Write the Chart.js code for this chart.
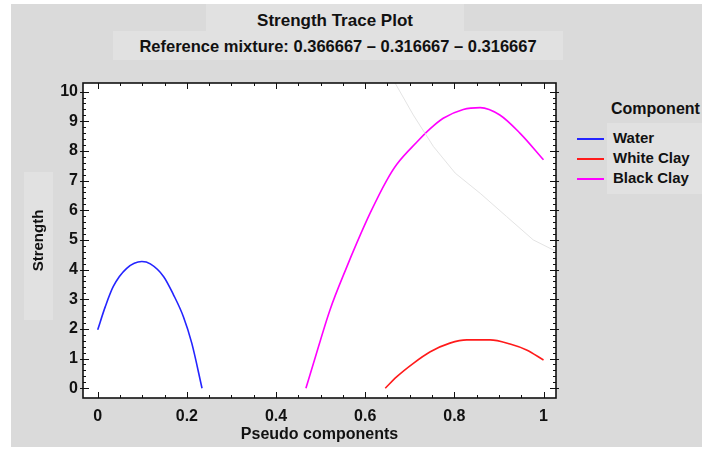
<!DOCTYPE html>
<html>
<head>
<meta charset="utf-8">
<title>Strength Trace Plot</title>
<script src="https://cdn.jsdelivr.net/npm/chart.js@4.4.1/dist/chart.umd.min.js"></script>
<style>
  body { margin: 0; background: #fff; font-family: "Liberation Sans", Arial, sans-serif; }
  #wrap { position: relative; width: 702px; height: 449px; overflow: hidden; }
  #bg { position: absolute; left: 11px; top: 4px; width: 691px; height: 443px; background: #dadada; }
  .box { position: absolute; background: #e1e1e1; font-weight: bold; color: #111; text-align: center; }
  #title { left: 206px; top: 4px; width: 258px; height: 27px; line-height: 33px; font-size: 17px; }
  #subtitle { left: 113px; top: 31px; width: 450px; height: 29px; line-height: 31px; font-size: 16.5px; }
  #ytitleBox { left: 24px; top: 172px; width: 29px; height: 148px; }
  #legendBox { left: 607px; top: 123px; width: 95px; height: 71px; }
  #legend { position: absolute; left: 577px; top: 100px; font-weight: bold; color: #111; }
  #legend .head { position: absolute; left: 34px; top: 0; font-size: 16px; white-space: nowrap; }
  #legend .item { position: absolute; left: 0; font-size: 15px; white-space: nowrap; }
  #legend .item span.swatch { display: inline-block; width: 27px; height: 0; border-top: 2px solid; vertical-align: middle; margin-right: 9px; }
  #myChart { position: absolute; left: 0; top: 0; }
</style>
</head>
<body>
<div id="wrap">
  <div id="bg"></div>
  <div class="box" id="title">Strength Trace Plot</div>
  <div class="box" id="subtitle">Reference mixture: 0.366667 – 0.316667 – 0.316667</div>
  <div class="box" id="ytitleBox"></div>
  <div class="box" id="legendBox"></div>
  <div id="legend"></div>
  <canvas id="myChart" width="702" height="449"></canvas>
</div>

<script>
// values
const seriesNames = ["Water", "White Clay", "Black Clay"];
const seriesColors = ["#2424ff", "#ff1a1a", "#ff00ff"];

const waterX = [0, 0.017, 0.035, 0.065, 0.099, 0.118, 0.148, 0.17, 0.192, 0.211, 0.234];
const waterY = [1.97, 2.75, 3.43, 4.04, 4.27, 4.19, 3.76, 3.15, 2.42, 1.52, 0];

const whiteClayX = [0.645, 0.671, 0.708, 0.746, 0.79, 0.828, 0.88, 0.925, 0.962, 1.0];
const whiteClayY = [0, 0.39, 0.84, 1.23, 1.52, 1.63, 1.63, 1.49, 1.29, 0.95];

const blackClayX = [0.467, 0.484, 0.521, 0.559, 0.581, 0.611, 0.648, 0.671, 0.716, 0.746, 0.775, 0.82, 0.858, 0.902, 0.947, 1.0];
const blackClayY = [0, 0.84, 2.64, 4.1, 4.89, 5.9, 7.0, 7.55, 8.3, 8.75, 9.1, 9.4, 9.46, 9.21, 8.6, 7.7];

// faint grey line in the background of the plot (no legend entry)
const faintX = [0.667, 0.708, 0.753, 0.802, 0.858, 0.917, 0.977, 1.03];
const faintY = [10.29, 9.21, 8.15, 7.25, 6.57, 5.79, 5.0, 4.6];

const xTicks = [0, 0.2, 0.4, 0.6, 0.8, 1];
const xTickLabels = ["0", "0.2", "0.4", "0.6", "0.8", "1"];
const yTicks = [0, 1, 2, 3, 4, 5, 6, 7, 8, 9, 10];

function toPoints(xs, ys) {
  return xs.map((x, i) => ({ x: x, y: ys[i] }));
}

const allX = [waterX, whiteClayX, blackClayX];
const allY = [waterY, whiteClayY, blackClayY];

const datasets = seriesNames.map((name, i) => ({
  label: name,
  data: toPoints(allX[i], allY[i]),
  borderColor: seriesColors[i],
  borderWidth: 1.6,
  pointRadius: 0,
  cubicInterpolationMode: 'monotone',
  showLine: true,
}));
datasets.unshift({
  label: "",
  data: toPoints(faintX, faintY),
  borderColor: "#e4e4e4",
  borderWidth: 1,
  pointRadius: 0,
  showLine: true,
});

// legend as html
const legend = document.getElementById('legend');
legend.innerHTML = '<div class="head">Component</div>';
seriesNames.forEach((name, i) => {
  const row = document.createElement('div');
  row.className = 'item';
  row.style.top = (29 + i * 20) + 'px';
  row.innerHTML = '<span class="swatch" style="border-color:' + seriesColors[i] + '"></span>' + name;
  legend.appendChild(row);
});

// white plot area, box around it and the small ticks on all four sides
const framePlugin = {
  id: 'frame',
  beforeDraw(chart) {
    const a = chart.chartArea;
    const ctx = chart.ctx;
    ctx.save();
    ctx.fillStyle = '#fff';
    ctx.fillRect(a.left, a.top, a.right - a.left, a.bottom - a.top);
    ctx.restore();
  },
  afterDraw(chart) {
    const a = chart.chartArea;
    const ctx = chart.ctx;
    const xs = chart.scales.x;
    const ys = chart.scales.y;
    ctx.save();
    ctx.strokeStyle = '#111';
    ctx.lineWidth = 1;
    ctx.beginPath();
    for (let v = 0; v <= 1.0001; v += 0.05) {
      const px = Math.round(xs.getPixelForValue(v)) + 0.5;
      const major = Math.abs(v / 0.2 - Math.round(v / 0.2)) < 0.01;
      const len = major ? 6 : 3;
      ctx.moveTo(px, a.bottom); ctx.lineTo(px, a.bottom - len);
      ctx.moveTo(px, a.top); ctx.lineTo(px, a.top + len);
    }
    for (let i = 0; i <= 50; i++) {
      const v = i * 0.2;
      const py = Math.round(ys.getPixelForValue(v)) + 0.5;
      const major = i % 5 == 0;
      ctx.moveTo(a.left - (major ? 3 : 0), py); ctx.lineTo(a.left + (major ? 6 : 3), py);
      ctx.moveTo(a.right + (major ? 3 : 0), py); ctx.lineTo(a.right - (major ? 6 : 3), py);
    }
    ctx.stroke();
    ctx.lineWidth = 1.6;
    ctx.strokeRect(a.left, a.top, a.right - a.left, a.bottom - a.top);
    ctx.restore();
  }
};

const ctx = document.getElementById('myChart');
const tickFont = { family: '"Liberation Sans", Arial, sans-serif', size: 16, weight: 'bold' };

new Chart(ctx, {
  type: 'scatter',
  data: { datasets: datasets },
  options: {
    responsive: false,
    animation: false,
    layout: { padding: { left: 20, top: 83, right: 146, bottom: 4 } },
    plugins: {
      legend: { display: false },
      tooltip: { enabled: false },
    },
    scales: {
      x: {
        type: 'linear',
        min: -0.033,
        max: 1.028,
        afterBuildTicks: (scale) => { scale.ticks = xTicks.map(v => ({ value: v })); },
        afterFit: (scale) => { scale.height = 47; },
        grid: { display: false, drawTicks: false },
        border: { display: false },
        ticks: {
          padding: 9,
          color: '#111',
          font: tickFont,
          callback: (value, index) => xTickLabels[index],
        },
        title: {
          display: true,
          text: 'Pseudo components',
          color: '#111',
          font: { family: '"Liberation Sans", Arial, sans-serif', size: 16, weight: 'bold' },
          padding: { top: 0, bottom: 1 },
        },
      },
      y: {
        type: 'linear',
        min: -0.33,
        max: 10.29,
        afterBuildTicks: (scale) => { scale.ticks = yTicks.map(v => ({ value: v })); },
        afterFit: (scale) => { scale.width = 63; },
        grid: { display: false, drawTicks: false },
        border: { display: false },
        ticks: {
          padding: 5,
          color: '#111',
          font: tickFont,
        },
        title: {
          display: true,
          text: 'Strength',
          color: '#111',
          font: { family: '"Liberation Sans", Arial, sans-serif', size: 15, weight: 'bold' },
          padding: { top: 10, bottom: 0 },
        },
      },
    },
  },
  plugins: [framePlugin],
});
</script>
</body>
</html>
